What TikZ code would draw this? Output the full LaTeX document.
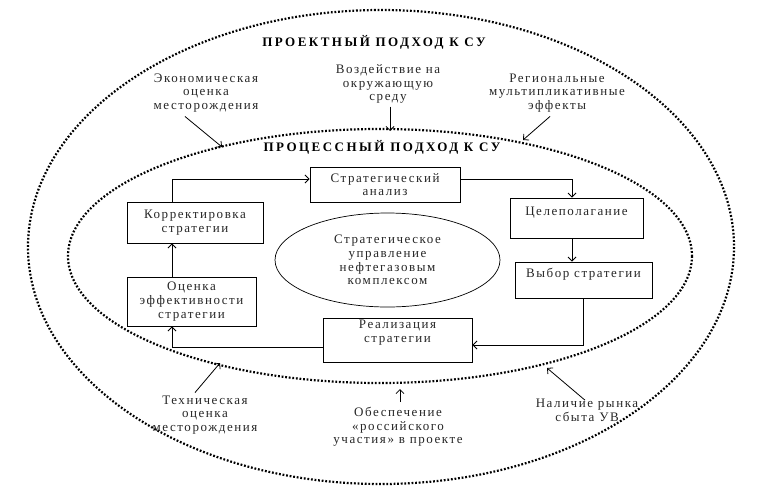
\documentclass[tikz,border=0pt]{standalone}
\usepackage{fontspec}
\setmainfont{Liberation Serif}
\usetikzlibrary{arrows.meta,shapes.geometric,calc}
\begin{document}
\begin{tikzpicture}[x=1pt,y=-1pt,
  txt/.style={font=\fontsize{13}{13.6}\selectfont\addfontfeature{LetterSpace=12}, align=center, text=black!85, inner sep=0pt},
  ttl/.style={font=\fontsize{13}{14}\selectfont\bfseries\addfontfeature{LetterSpace=19}, text=black, inner sep=0pt},
  box/.style={draw, line width=0.9pt, txt},
  dotline/.style={line width=2.2pt, dash pattern=on 1.8pt off 1.8pt},
  arr/.style={-{Straight Barb[length=4pt,width=8pt]}, line width=0.8pt},
]
\useasboundingbox (0,0) rectangle (759,491);
% ellipses
\draw[dotline] (381,247) ellipse [x radius=353, y radius=237];
\draw[dotline] (380,256) ellipse [x radius=312, y radius=127];
% titles
\node[ttl] (t1) at (374,42) {ПРОЕКТНЫЙ ПОДХОД К СУ};
\node[ttl] (t2) at (382,147) {ПРОЦЕССНЫЙ ПОДХОД К СУ};
% boxes
\node[box, minimum width=150, minimum height=35] (sa) at (385,184.5) {Стратегический\\анализ};
\node[box, minimum width=133, minimum height=40] (cel) at (576.5,218) {Целеполагание\\\mbox{}};
\node[box, minimum width=137, minimum height=36] (vyb) at (583.5,280) {Выбор стратегии\\\mbox{}};
\node[box, minimum width=136, minimum height=41] (kor) at (195,222.5) {Корректировка\\стратегии};
\node[box, minimum width=129, minimum height=49] (otc) at (191.5,301.5) {Оценка\\эффективности\\стратегии};
\node[box, minimum width=149, minimum height=44] (real) at (397.5,340) {Реализация\\стратегии\\[4pt]};
\node[draw, ellipse, line width=0.7pt, txt, minimum width=225, minimum height=94, inner sep=0pt] (el) at (387.5,260) {Стратегическое\\управление\\нефтегазовым\\комплексом};
% cycle connectors
\coordinate (c1) at (172,0);
\draw[arr] (kor.north -| c1) |- ($(sa.west)+(0,-5.5)$);
\draw[arr] ($(sa.east)+(0,-5.5)$) -| ($(cel.north)+(-4.5,0)$);
\draw[arr] ($(cel.south)+(-4.5,0)$) -- ($(cel.south |- vyb.north)+(-4.5,0)$);
\draw[arr] (vyb.south) |- ($(real.east)+(0,5)$);
\draw[arr] ($(real.west)+(0,7)$) -| (otc.south -| c1);
\draw[arr] (otc.north -| c1) -- (kor.south -| c1);
% outer labels
\node[txt] (eko) at (206,93) {Экономическая\\оценка\\месторождения};
\node[txt] (vozd) at (388,84) {Воздействие на\\окружающую\\среду};
\node[txt] (reg) at (557,93) {Региональные\\мультипликативные\\эффекты};
\node[txt] (tech) at (205,415) {Техническая\\оценка\\месторождения};
\node[txt] (obes) at (398,427) {Обеспечение\\«российского\\участия» в проекте};
\node[txt] (nal) at (587,410.5) {Наличие рынка\\сбыта УВ};
% points on inner ellipse
\coordinate (e1) at (222,147);
\coordinate (e2) at (390,131);
\coordinate (e3) at (523,140);
\coordinate (e4) at (220,363);
\coordinate (e5) at (400,389);
\coordinate (e6) at (547,368);
\draw[arr] ($(eko.south)+(-21,4)$) -- (e1);
\draw[arr] ($(vozd.south)+(2,3)$) -- (e2);
\draw[arr] ($(reg.south)+(-7,4)$) -- (e3);
\draw[arr] ($(tech.north)+(-10,-3)$) -- (e4);
\draw[arr] ($(obes.north)+(2,-5)$) -- (e5);
\draw[arr] ($(nal.north)+(-2,1)$) -- (e6);
\end{tikzpicture}
\end{document}
